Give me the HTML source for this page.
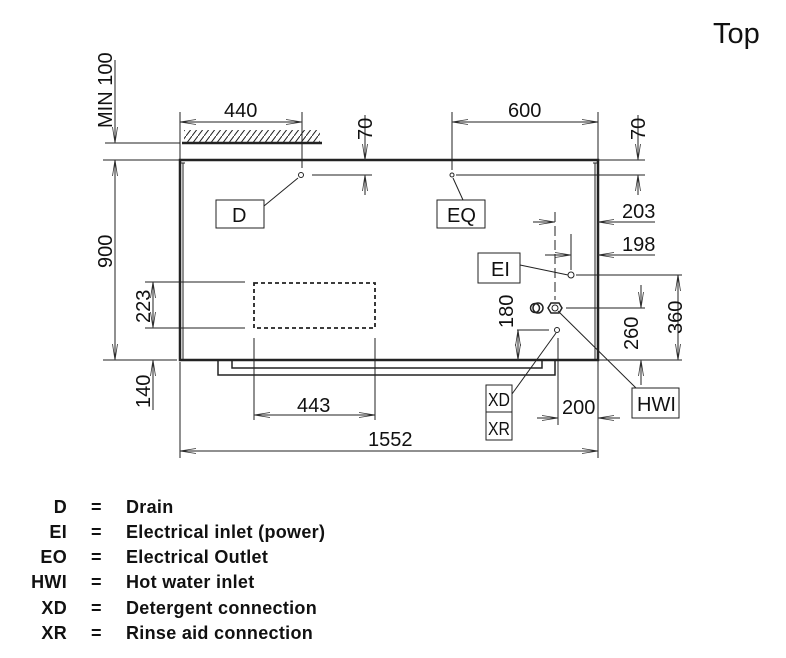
<!DOCTYPE html>
<html><head><meta charset="utf-8"><style>
html,body{margin:0;padding:0;background:#fff;width:786px;height:658px;overflow:hidden}
svg{display:block}
.t{font-family:"Liberation Sans",sans-serif;font-size:20px;fill:#111}
.l{font-family:"Liberation Sans",sans-serif;font-size:18px;font-weight:bold;fill:#111;letter-spacing:0.3px}
</style></head><body>
<svg width="786" height="658" viewBox="0 0 786 658" xmlns="http://www.w3.org/2000/svg">
<defs>
<pattern id="h" width="6" height="8" patternUnits="userSpaceOnUse"><path d="M0 8 L6 0" stroke="#222" stroke-width="1"/></pattern>
<marker id="a" markerWidth="16" markerHeight="6" refX="16" refY="3" orient="auto" markerUnits="userSpaceOnUse"><path d="M0 0.5 L16 3 L0 5.5" fill="none" stroke="#333" stroke-width="0.8"/></marker>
</defs>
<text x="713" y="43" style="font-family:'Liberation Sans',sans-serif;font-size:29px;fill:#111">Top</text>
<g stroke="#222" fill="none" stroke-width="1">
<rect x="184" y="130" width="136" height="12" fill="url(#h)" stroke="none"/>
<line x1="182" y1="143" x2="322" y2="143" stroke-width="2.5"/>
<path d="M180 360 V160 H598 V360 Z" stroke-width="2.5"/>
<line x1="183" y1="163" x2="183" y2="360"/>
<line x1="180" y1="163" x2="185" y2="163"/>
<line x1="595" y1="163" x2="595" y2="360"/>
<line x1="593" y1="163" x2="598" y2="163"/>
<line x1="598" y1="160" x2="645" y2="160"/>
<path d="M218 360 V375 H555 V360" stroke-width="1.5"/>
<path d="M232 360 V368 H542 V360" stroke-width="1.5"/>
<rect x="254" y="283" width="121" height="45" stroke-dasharray="4,3" stroke-width="1.8"/>
<line x1="105" y1="143" x2="180" y2="143"/>
<line x1="103" y1="160" x2="180" y2="160"/>
<line x1="103" y1="360" x2="177" y2="360"/>
<line x1="145" y1="282" x2="245" y2="282"/>
<line x1="145" y1="328" x2="245" y2="328"/>
<line x1="180" y1="112" x2="180" y2="160"/>
<line x1="302" y1="112" x2="302" y2="168"/>
<line x1="452" y1="112" x2="452" y2="170"/>
<line x1="598" y1="112" x2="598" y2="160"/>
<line x1="312" y1="175" x2="372" y2="175"/>
<line x1="456" y1="175" x2="645" y2="175"/>
<line x1="254" y1="338" x2="254" y2="420"/>
<line x1="375" y1="338" x2="375" y2="420"/>
<line x1="180" y1="362" x2="180" y2="458"/>
<line x1="598" y1="360" x2="598" y2="458"/>
<line x1="558" y1="338" x2="558" y2="425"/>
<line x1="555" y1="212" x2="555" y2="300" stroke-dasharray="10,4"/>
<line x1="571" y1="234" x2="571" y2="270"/>
<line x1="576" y1="275" x2="682" y2="275"/>
<line x1="566" y1="308" x2="645" y2="308"/>
<line x1="517" y1="330" x2="549" y2="330"/>
<line x1="598" y1="360" x2="682" y2="360"/>
<line x1="302" y1="122" x2="180" y2="122" marker-end="url(#a)"/>
<line x1="180" y1="122" x2="302" y2="122" marker-end="url(#a)"/>
<line x1="452" y1="122" x2="598" y2="122" marker-end="url(#a)"/>
<line x1="598" y1="122" x2="452" y2="122" marker-end="url(#a)"/>
<line x1="254" y1="415" x2="375" y2="415" marker-end="url(#a)"/>
<line x1="375" y1="415" x2="254" y2="415" marker-end="url(#a)"/>
<line x1="598" y1="451" x2="180" y2="451" marker-end="url(#a)"/>
<line x1="180" y1="451" x2="598" y2="451" marker-end="url(#a)"/>
<line x1="115" y1="60" x2="115" y2="143" marker-end="url(#a)"/>
<line x1="115" y1="176" x2="115" y2="160" marker-end="url(#a)"/>
<line x1="115" y1="160" x2="115" y2="360" marker-end="url(#a)"/>
<line x1="153" y1="328" x2="153" y2="282" marker-end="url(#a)"/>
<line x1="153" y1="282" x2="153" y2="328" marker-end="url(#a)"/>
<line x1="153" y1="410" x2="153" y2="360" marker-end="url(#a)"/>
<line x1="365" y1="115" x2="365" y2="160" marker-end="url(#a)"/>
<line x1="365" y1="195" x2="365" y2="175" marker-end="url(#a)"/>
<line x1="638" y1="115" x2="638" y2="160" marker-end="url(#a)"/>
<line x1="638" y1="195" x2="638" y2="175" marker-end="url(#a)"/>
<line x1="533" y1="222" x2="555" y2="222" marker-end="url(#a)"/>
<line x1="655" y1="222" x2="598" y2="222" marker-end="url(#a)"/>
<line x1="545" y1="255" x2="571" y2="255" marker-end="url(#a)"/>
<line x1="655" y1="255" x2="598" y2="255" marker-end="url(#a)"/>
<line x1="518" y1="360" x2="518" y2="330" marker-end="url(#a)"/>
<line x1="518" y1="330" x2="518" y2="360" marker-end="url(#a)"/>
<line x1="641" y1="285" x2="641" y2="308" marker-end="url(#a)"/>
<line x1="641" y1="385" x2="641" y2="360" marker-end="url(#a)"/>
<line x1="678" y1="360" x2="678" y2="275" marker-end="url(#a)"/>
<line x1="678" y1="275" x2="678" y2="360" marker-end="url(#a)"/>
<line x1="537" y1="418" x2="558" y2="418" marker-end="url(#a)"/>
<line x1="620" y1="418" x2="598" y2="418" marker-end="url(#a)"/>
<circle cx="301" cy="175" r="2.5" fill="#fff"/>
<circle cx="452" cy="175" r="2" fill="#fff"/>
<circle cx="571" cy="275" r="3" fill="#fff"/>
<circle cx="557" cy="330" r="2.5" fill="#fff"/>
<polygon points="551,303 559,303 562,308 559,313 551,313 548,308" stroke-width="1.5"/>
<circle cx="555" cy="308" r="3"/>
<circle cx="538" cy="308" r="5" stroke-width="1.5"/>
<circle cx="535" cy="308" r="4.5" stroke-width="1.5"/>
<rect x="216" y="200" width="48" height="28"/>
<line x1="264" y1="206" x2="298" y2="178"/>
<rect x="437" y="200" width="48" height="28"/>
<line x1="463" y1="200" x2="453" y2="178"/>
<rect x="478" y="253" width="42" height="30"/>
<line x1="520" y1="265" x2="568" y2="275"/>
<rect x="486" y="385" width="26" height="27"/>
<rect x="486" y="412" width="26" height="28"/>
<line x1="512" y1="394" x2="556" y2="333"/>
<rect x="632" y="388" width="47" height="30"/>
<line x1="636" y1="388" x2="558" y2="311"/>
</g>
<g class="t">
<text x="224" y="117">440</text>
<text x="508" y="117">600</text>
<text x="297" y="412">443</text>
<text x="368" y="446">1552</text>
<text x="562" y="414">200</text>
<text x="622" y="218">203</text>
<text x="622" y="251">198</text>
<text x="232" y="222">D</text>
<text x="447" y="222">EQ</text>
<text x="491" y="276">EI</text>
<text x="637" y="411">HWI</text>
<text x="488" y="406" style="font-size:18px" textLength="22" lengthAdjust="spacingAndGlyphs">XD</text>
<text x="488" y="435" style="font-size:18px" textLength="22" lengthAdjust="spacingAndGlyphs">XR</text>
<text transform="translate(112,128) rotate(-90)">MIN 100</text>
<text transform="translate(112,268) rotate(-90)">900</text>
<text transform="translate(150,323) rotate(-90)">223</text>
<text transform="translate(150,408) rotate(-90)">140</text>
<text transform="translate(372,140) rotate(-90)">70</text>
<text transform="translate(645,140) rotate(-90)">70</text>
<text transform="translate(513,328) rotate(-90)">180</text>
<text transform="translate(638,350) rotate(-90)">260</text>
<text transform="translate(682,334) rotate(-90)">360</text>
</g>
<g class="l">
<text x="67" y="513" text-anchor="end">D</text><text x="91" y="513">=</text><text x="126" y="513">Drain</text>
<text x="67" y="538" text-anchor="end">EI</text><text x="91" y="538">=</text><text x="126" y="538">Electrical inlet (power)</text>
<text x="67" y="563" text-anchor="end">EO</text><text x="91" y="563">=</text><text x="126" y="563">Electrical Outlet</text>
<text x="67" y="588" text-anchor="end">HWI</text><text x="91" y="588">=</text><text x="126" y="588">Hot water inlet</text>
<text x="67" y="614" text-anchor="end">XD</text><text x="91" y="614">=</text><text x="126" y="614">Detergent connection</text>
<text x="67" y="639" text-anchor="end">XR</text><text x="91" y="639">=</text><text x="126" y="639">Rinse aid connection</text>
</g>
</svg>
</body></html>
